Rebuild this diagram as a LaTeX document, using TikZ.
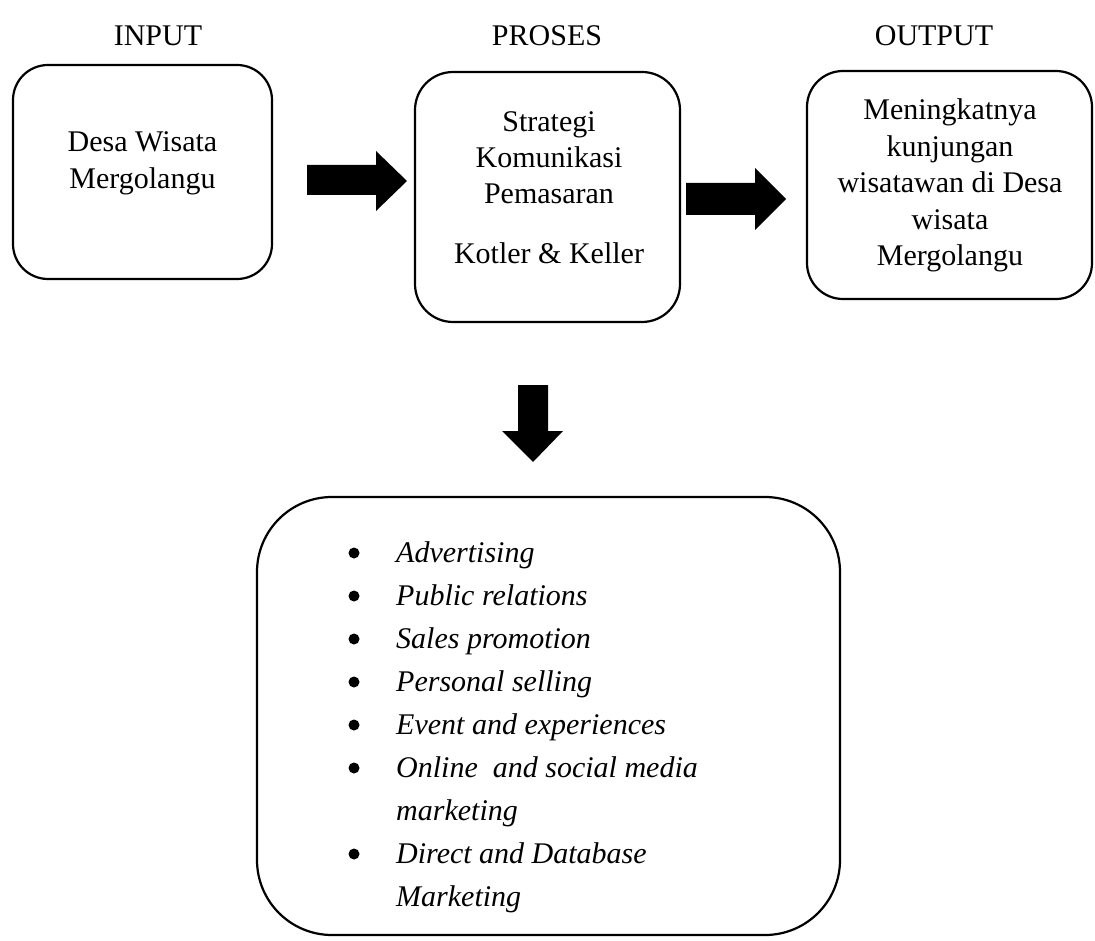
\documentclass[tikz,border=0pt]{standalone}
\usepackage{fontspec}
\setmainfont{Liberation Serif}
\begin{document}
\begin{tikzpicture}[x=1pt,y=-1pt,
  box/.style={draw,line width=2.2pt,rounded corners=#1,inner sep=0pt},
  txt/.style={font=\fontsize{30}{36}\selectfont,inner sep=0pt,anchor=base},
  itm/.style={font=\fontsize{30}{36}\selectfont\itshape,inner sep=0pt,anchor=base west},
  blk/.style={fill=black,draw=none},
  dot/.style={circle,fill=black,draw=none,inner sep=0pt,minimum size=11pt}]
\useasboundingbox (0,0) rectangle (1095,941);
% titles
\node[txt] (tin) at (158,46) {INPUT};
\node[txt] (tpr) at (547,46) {PROSES};
\node[txt] (tout) at (934,46) {OUTPUT};
% boxes
\node[box=35pt,minimum width=259pt,minimum height=214pt] (in) at (142.5,172) {};
\node[box=38pt,minimum width=265pt,minimum height=250pt] (pr) at (547.5,197) {};
\node[box=36pt,minimum width=285pt,minimum height=228pt] (out) at (949.5,185) {};
\node[box=75pt,minimum width=583pt,minimum height=438pt] (tools) at (548.5,716) {};
% box texts
\node[txt] (in1) at (142.5,152) {Desa Wisata};
\node[txt] (in2) at (142.5,189) {Mergolangu};
\node[txt] (pr1) at (549,132) {Strategi};
\node[txt] (pr2) at (549,168) {Komunikasi};
\node[txt] (pr3) at (549,204) {Pemasaran};
\node[txt] (pr4) at (549,264) {Kotler \& Keller};
\node[txt] (o1) at (950,120) {Meningkatnya};
\node[txt] (o2) at (950,156.5) {kunjungan};
\node[txt] (o3) at (950,193) {wisatawan di Desa};
\node[txt] (o4) at (950,229.5) {wisata};
\node[txt] (o5) at (950,266) {Mergolangu};
% arrows
\fill[blk] (307,165) -- (376,165) -- (376,151) -- (407,181) -- (376,211) -- (376,195) -- (307,195) -- cycle;
\fill[blk] (686,183) -- (755,183) -- (755,168) -- (786,199) -- (755,230) -- (755,215) -- (686,215) -- cycle;
\fill[blk] (518,385) -- (548,385) -- (548,431) -- (563,431) -- (533,462) -- (502,431) -- (518,431) -- cycle;
% list
\node[dot] (b1) at (354,553) {};
\node[itm] (i1) at (396,562) {Advertising};
\node[dot] (b2) at (354,596) {};
\node[itm] (i2) at (396,605) {Public relations};
\node[dot] (b3) at (354,639) {};
\node[itm] (i3) at (396,648) {Sales promotion};
\node[dot] (b4) at (354,682) {};
\node[itm] (i4) at (396,691) {Personal selling};
\node[dot] (b5) at (354,725) {};
\node[itm] (i5) at (396,734) {Event and experiences};
\node[dot] (b6) at (354,768) {};
\node[itm] (i6) at (396,777) {Online\ \ and social media};
\node[itm] (i6b) at (396,820) {marketing};
\node[dot] (b7) at (354,854) {};
\node[itm] (i7) at (396,863) {Direct and Database};
\node[itm] (i7b) at (396,906) {Marketing};
\end{tikzpicture}
\end{document}
